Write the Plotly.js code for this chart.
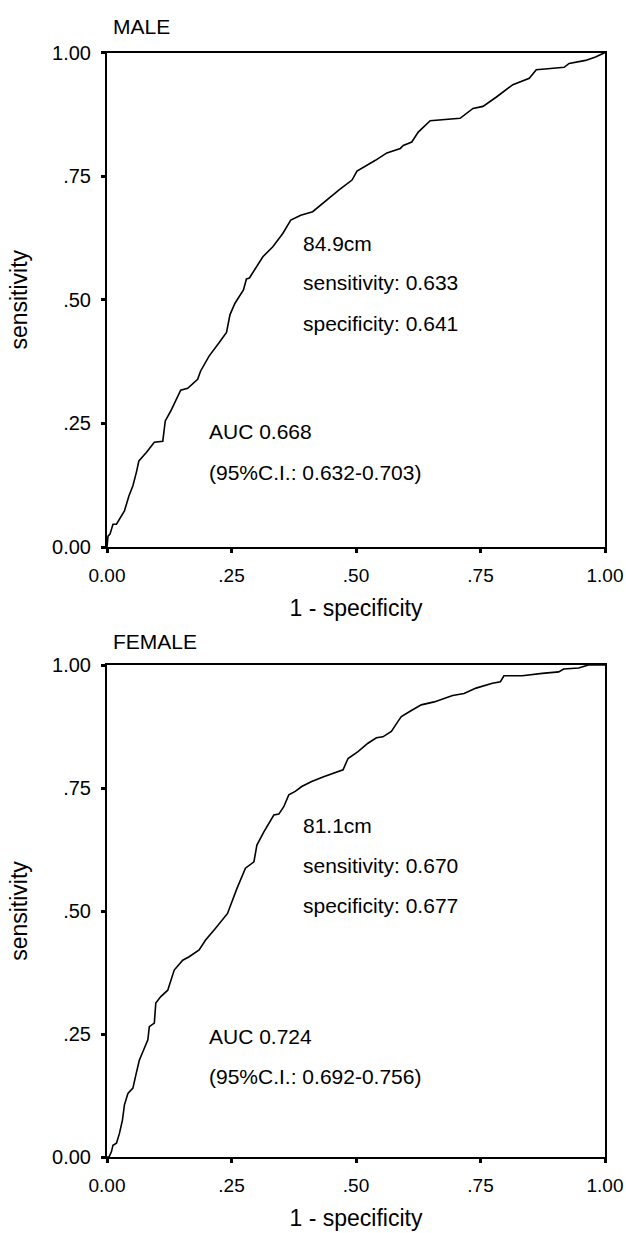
<!DOCTYPE html>
<html>
<head>
<meta charset="utf-8">
<script src="https://cdn.plot.ly/plotly-3.0.1.min.js"></script>
<style>
html,body{margin:0;padding:0;background:#fff;}
#chart{width:626px;height:1233px;}
</style>
</head>
<body>
<div id="chart"></div>
<script>
// ---- data ----
const maleFpr = [0,0.002,0.006,0.012,0.019,0.029,0.035,0.044,0.052,0.059,0.064,0.079,0.095,0.112,0.117,0.128,0.148,0.162,0.182,0.188,0.205,0.225,0.240,0.247,0.257,0.274,0.280,0.286,0.313,0.333,0.353,0.369,0.389,0.413,0.433,0.466,0.492,0.502,0.539,0.562,0.589,0.595,0.612,0.625,0.649,0.679,0.709,0.735,0.755,0.782,0.815,0.848,0.862,0.885,0.918,0.928,0.961,0.981,1];
const maleTpr = [0,0.022,0.026,0.046,0.046,0.063,0.073,0.103,0.124,0.151,0.174,0.191,0.212,0.214,0.255,0.275,0.317,0.321,0.339,0.356,0.386,0.413,0.434,0.470,0.493,0.520,0.542,0.544,0.587,0.607,0.634,0.661,0.671,0.678,0.695,0.722,0.742,0.760,0.782,0.797,0.806,0.812,0.819,0.839,0.862,0.865,0.867,0.887,0.891,0.910,0.935,0.948,0.965,0.967,0.970,0.978,0.984,0.991,1];

const femaleFpr = [0,0.004,0.009,0.012,0.019,0.025,0.031,0.035,0.042,0.052,0.058,0.065,0.072,0.082,0.085,0.095,0.098,0.108,0.122,0.128,0.135,0.152,0.165,0.185,0.198,0.218,0.242,0.261,0.278,0.295,0.301,0.315,0.335,0.345,0.355,0.365,0.378,0.391,0.411,0.435,0.461,0.474,0.484,0.504,0.524,0.541,0.554,0.571,0.584,0.591,0.607,0.631,0.657,0.694,0.717,0.741,0.774,0.790,0.797,0.834,0.874,0.907,0.917,0.947,0.967,1];
const femaleTpr = [0,0,0.011,0.024,0.028,0.048,0.075,0.106,0.129,0.140,0.167,0.197,0.214,0.238,0.265,0.272,0.313,0.326,0.339,0.360,0.380,0.400,0.407,0.421,0.441,0.465,0.495,0.546,0.587,0.600,0.634,0.661,0.695,0.697,0.712,0.736,0.743,0.753,0.763,0.773,0.783,0.787,0.810,0.824,0.841,0.852,0.854,0.865,0.885,0.895,0.905,0.919,0.925,0.938,0.942,0.953,0.963,0.966,0.978,0.978,0.983,0.986,0.992,0.994,1.0,1];

const tickVals = [0, 0.25, 0.5, 0.75, 1];
const tickLabels = ["0.00", ".25", ".50", ".75", "1.00"];

const panelTitles = ["MALE", "FEMALE"];
const cutoffLabels = ["84.9cm", "81.1cm"];
const sensLabels = ["sensitivity: 0.633", "sensitivity: 0.670"];
const specLabels = ["specificity: 0.641", "specificity: 0.677"];
const aucLabels = ["AUC 0.668", "AUC 0.724"];
const ciLabels = ["(95%C.I.: 0.632-0.703)", "(95%C.I.: 0.692-0.756)"];

// ---- chart ----
const FONT = "Liberation Sans, Arial, sans-serif";
const lineStyle = {color: "#000", width: 1.6};

const traces = [
  {x: maleFpr, y: maleTpr, xaxis: "x", yaxis: "y", mode: "lines", line: lineStyle, hoverinfo: "skip", showlegend: false},
  {x: femaleFpr, y: femaleTpr, xaxis: "x2", yaxis: "y2", mode: "lines", line: lineStyle, hoverinfo: "skip", showlegend: false}
];

function xAxis(domain, anchor) {
  return {
    domain: domain, anchor: anchor, range: [0, 1], fixedrange: true,
    tickmode: "array", tickvals: tickVals, ticktext: tickLabels,
    ticks: "outside", ticklen: 4, tickwidth: 3, tickcolor: "#000",
    ticklabelstandoff: 6, ticklabeloverflow: "allow",
    showline: true, mirror: true, linecolor: "#000", linewidth: 2,
    showgrid: false, zeroline: false,
    tickfont: {family: FONT, size: 19, color: "#000"},
    title: {text: "1 - specificity", font: {family: FONT, size: 23, color: "#000"}, standoff: 15}
  };
}
function yAxis(domain, anchor) {
  return {
    domain: domain, anchor: anchor, range: [0, 1], fixedrange: true,
    tickmode: "array", tickvals: tickVals, ticktext: tickLabels,
    ticks: "outside", ticklen: 4, tickwidth: 3, tickcolor: "#000",
    ticklabelstandoff: 6, ticklabeloverflow: "allow",
    showline: true, mirror: true, linecolor: "#000", linewidth: 2,
    showgrid: false, zeroline: false,
    tickfont: {family: FONT, size: 20, color: "#000"},
    title: {text: "sensitivity", font: {family: FONT, size: 23, color: "#000"}, standoff: 18}
  };
}

const xDom = [107/626, 605/626];
const y1Dom = [1 - 547/1233, 1 - 52.5/1233];
const y2Dom = [1 - 1157/1233, 1 - 665/1233];

const annFont = {family: FONT, size: 21, color: "#000"};
const annotations = [];
const refs = [["x", "y"], ["x2", "y2"]];
const cutY = [[0.613, 0.534, 0.452, 0.234, 0.151], [0.674, 0.593, 0.512, 0.245, 0.164]];
const cutX = [0.390, 0.200];
for (let i = 0; i < 2; i++) {
  const [xr, yr] = refs[i];
  const texts = [cutoffLabels[i], sensLabels[i], specLabels[i], aucLabels[i], ciLabels[i]];
  texts.forEach((t, j) => {
    annotations.push({
      xref: xr, yref: yr, x: j < 3 ? cutX[0] : cutX[1], y: cutY[i][j],
      text: t, showarrow: false, xanchor: "left", yanchor: "middle",
      font: annFont
    });
  });
}
annotations.push({xref: "paper", yref: "paper", x: 111/626, y: 1 - 26/1233, text: panelTitles[0], showarrow: false, xanchor: "left", yanchor: "middle", font: annFont});
annotations.push({xref: "paper", yref: "paper", x: 111/626, y: 1 - 641/1233, text: panelTitles[1], showarrow: false, xanchor: "left", yanchor: "middle", font: annFont});

const layout = {
  width: 626, height: 1233,
  margin: {l: 0, r: 0, t: 0, b: 0},
  paper_bgcolor: "#fff", plot_bgcolor: "#fff",
  showlegend: false,
  xaxis: xAxis(xDom, "y"),
  yaxis: yAxis(y1Dom, "x"),
  xaxis2: xAxis(xDom, "y2"),
  yaxis2: yAxis(y2Dom, "x2"),
  annotations: annotations,
  font: {family: FONT, color: "#000"}
};

Plotly.newPlot("chart", traces, layout, {staticPlot: true, displayModeBar: false});
</script>
</body>
</html>
